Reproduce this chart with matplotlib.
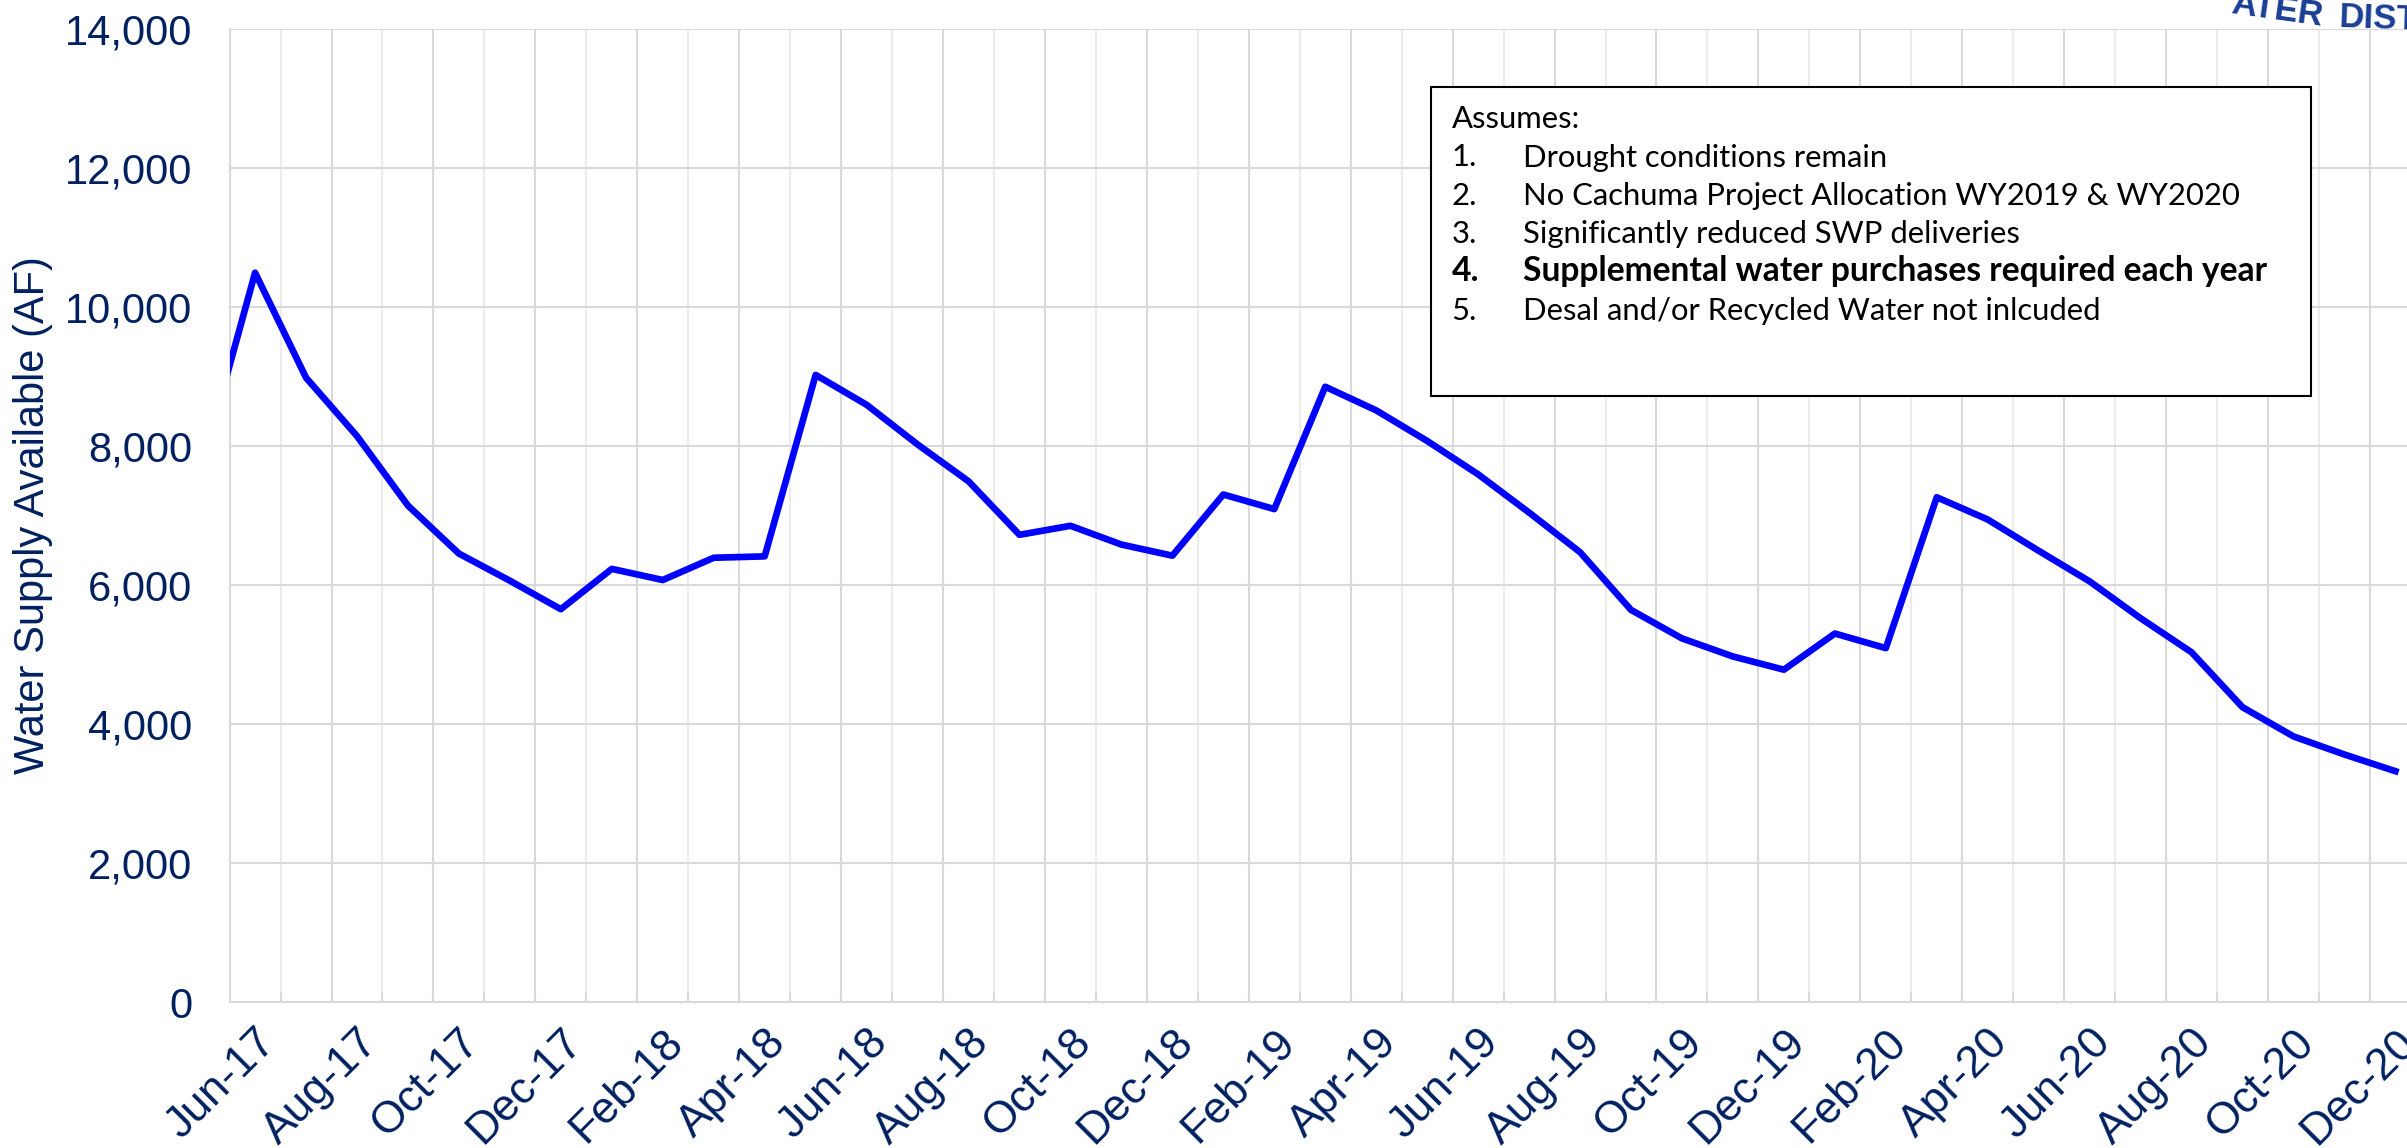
import numpy as np
import pandas as pd
import matplotlib
matplotlib.use("Agg")
import matplotlib.pyplot as plt
from matplotlib.patches import Rectangle
from matplotlib.ticker import FuncFormatter

W, H, DPI = 2407, 1148, 100

# monthly categories; May-17 only feeds the clipped segment at the left edge
months = list(pd.date_range("2017-05-01", periods=44, freq="MS").strftime("%b-%y"))
supply = [7820,
          10490, 8980, 8140, 7140, 6450, 6060, 5650,
          6230, 6070, 6390, 6410, 9020, 8590, 8020, 7490, 6720, 6850, 6580, 6420,
          7300, 7090, 8850, 8510, 8070, 7590, 7040, 6470, 5640, 5230, 4970, 4780,
          5300, 5090, 7260, 6940, 6490, 6050, 5520, 5030, 4240, 3820, 3560, 3320]
y_ticks = list(range(0, 14001, 2000))
y_title = "Water Supply Available (AF)"

note_title = "Assumes:"
notes = ["Drought conditions remain",
         "No Cachuma Project Allocation WY2019 & WY2020",
         "Significantly reduced SWP deliveries",
         "Supplemental water purchases required each year",
         "Desal and/or Recycled Water not inlcuded"]
bold_note = 4

navy = "#002060"
grid_major = "#d9d9d9"
grid_minor = "#ececec"
logo_blue = "#1a3e96"


def fx(px):
    return px / W


def fy(py):
    return 1 - py / H


fig = plt.figure(figsize=(W / DPI, H / DPI), dpi=DPI)
ax = fig.add_axes([fx(229.6), fy(1002), fx(2420.9) - fx(229.6), fy(28.7) - fy(1002)])

x = np.arange(len(months)) - 0.5
n_cat = len(months) - 1

# category boundaries as gridlines, darker every second month
ax.vlines(np.arange(0, n_cat, 2), 0, 14000, color=grid_major, lw=1.5, zorder=0.5)
ax.vlines(np.arange(1, n_cat, 2), 0, 14000, color=grid_minor, lw=1.5, zorder=0.5)
ax.yaxis.grid(True, color=grid_major, lw=1.5)
ax.set_axisbelow(True)

ax.plot(x, supply, color="#0000ff", lw=4.8, solid_joinstyle="round", zorder=3)

ax.set_xlim(0, n_cat)
ax.set_ylim(0, 14000)

ax.set_xticks(x[1::2])
ax.set_xticklabels(months[1::2], rotation=45, ha="right", va="top",
                   rotation_mode="anchor", family="Liberation Sans", fontsize=32)
ax.tick_params(axis="x", which="major", length=0, pad=14, labelcolor=navy)
ax.set_xticks(np.arange(1, n_cat), minor=True)
ax.tick_params(axis="x", which="minor", direction="in", length=7, width=1.5, color=grid_major)

ax.set_yticks(y_ticks)
ax.yaxis.set_major_formatter(FuncFormatter(lambda v, p: f"{v:,.0f}"))
ax.tick_params(axis="y", length=0, pad=27, labelsize=30, labelcolor=navy)
for lab in ax.get_yticklabels():
    lab.set_family("Liberation Sans")

for side in ["top", "right"]:
    ax.spines[side].set_visible(False)
for side in ["left", "bottom"]:
    ax.spines[side].set_color(grid_major)
    ax.spines[side].set_linewidth(1.5)

fig.text(fx(33), fy(515), y_title, rotation=90, ha="center", va="center",
         fontsize=30, color=navy, family="Liberation Sans")

# assumptions box
box = Rectangle((fx(1431), fy(396)), fx(2311) - fx(1431), fy(86.7) - fy(396),
                transform=fig.transFigure, facecolor="white", edgecolor="black",
                lw=1.5, zorder=5)
fig.add_artist(box)
fig.text(fx(1451.7), fy(128.3), note_title, fontsize=22.3, family="Lato",
         va="baseline", zorder=6)
for i, note in enumerate(notes):
    base = fy(166.5 + 38.3 * i)
    is_bold = i + 1 == bold_note
    size = 24.2 if is_bold else 22.3
    weight = "bold" if is_bold else "normal"
    fig.text(fx(1451.7), base, f"{i + 1}.", fontsize=size, family="Lato",
             weight=weight, va="baseline", zorder=6)
    fig.text(fx(1523.3), base, note, fontsize=size, family="Lato",
             weight=weight, va="baseline", zorder=6)

# cut-off logo lettering at the top right
fig.text(fx(2230), fy(13), "ATER", rotation=-8, rotation_mode="anchor",
         ha="left", va="baseline", fontsize=25, weight="bold", color=logo_blue,
         family="Liberation Sans")
fig.text(fx(2339), fy(27), "DIST", rotation=-2, rotation_mode="anchor",
         ha="left", va="baseline", fontsize=25, weight="bold", color=logo_blue,
         family="Liberation Sans")

fig.savefig("out.png", dpi=DPI)
